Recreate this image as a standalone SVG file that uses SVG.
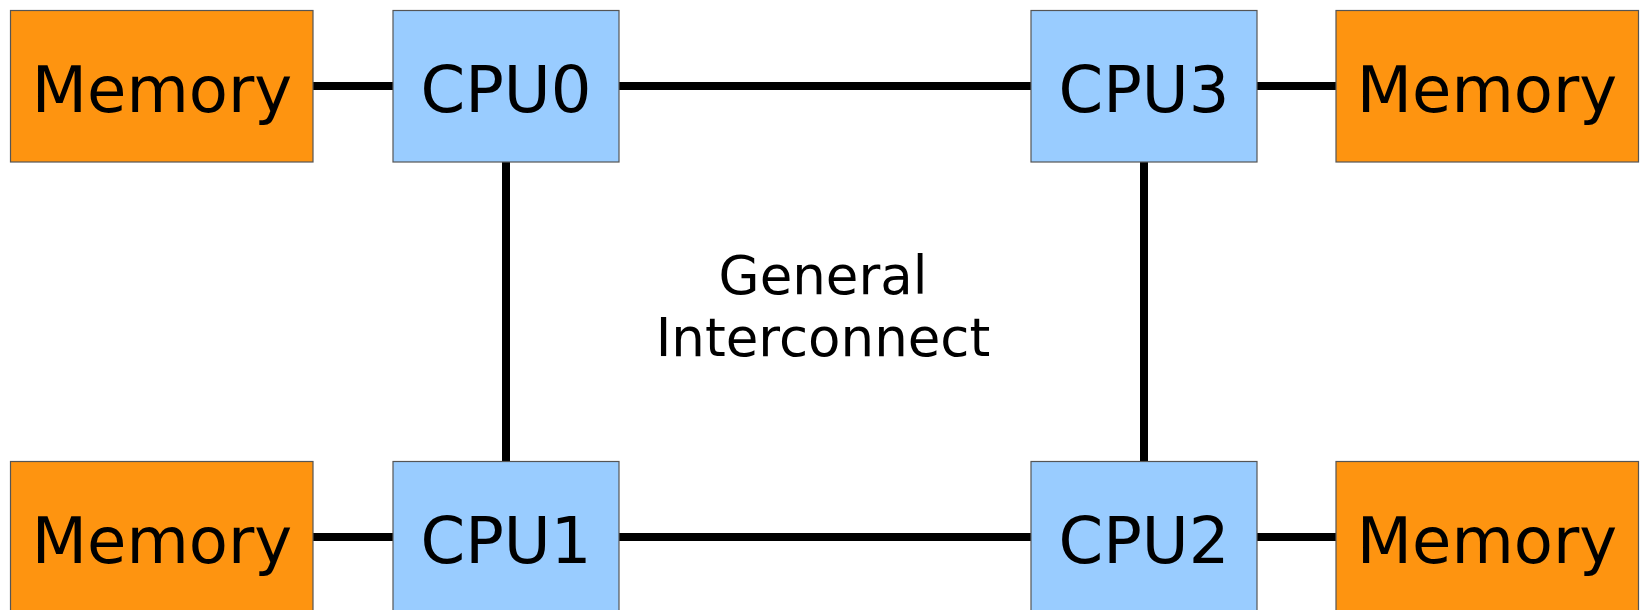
<svg xmlns="http://www.w3.org/2000/svg" width="1640" height="610" viewBox="0 0 1640 610">
<style>
.mem{fill:#fe9410;stroke:#555;stroke-width:1.2}
.cpu{fill:#99ccff;stroke:#555;stroke-width:1.2}
.lbl{font-family:"DejaVu Sans",Verdana,sans-serif;font-size:64px;fill:#000;text-anchor:middle}
.mid{font-family:"DejaVu Sans",Verdana,sans-serif;font-size:53px;fill:#000;text-anchor:middle}
.wire{stroke:#000;stroke-width:8;fill:none}
</style>
<rect width="1640" height="610" fill="#fff"/>
<g id="connectors">
<line class="wire" x1="313" y1="86" x2="393" y2="86"/>
<line class="wire" x1="619" y1="86" x2="1031" y2="86"/>
<line class="wire" x1="1257" y1="86" x2="1336" y2="86"/>
<line class="wire" x1="313" y1="537" x2="393" y2="537"/>
<line class="wire" x1="619" y1="537" x2="1031" y2="537"/>
<line class="wire" x1="1257" y1="537" x2="1336" y2="537"/>
<line class="wire" x1="506" y1="162" x2="506" y2="462"/>
<line class="wire" x1="1144" y1="162" x2="1144" y2="462"/>
</g>
<g id="mem0"><rect class="mem" x="10.5" y="10.5" width="302.5" height="151.5"/><text class="lbl" x="162" y="112">Memory</text></g>
<g id="cpu0"><rect class="cpu" x="393" y="10.5" width="226" height="151.5"/><text class="lbl" x="506" y="112">CPU0</text></g>
<g id="cpu3"><rect class="cpu" x="1031" y="10.5" width="226" height="151.5"/><text class="lbl" x="1144" y="112">CPU3</text></g>
<g id="mem3"><rect class="mem" x="1336" y="10.5" width="302.5" height="151.5"/><text class="lbl" x="1487" y="112">Memory</text></g>
<g id="mem1"><rect class="mem" x="10.5" y="461.5" width="302.5" height="151.5"/><text class="lbl" x="162" y="563">Memory</text></g>
<g id="cpu1"><rect class="cpu" x="393" y="461.5" width="226" height="151.5"/><text class="lbl" x="506" y="563">CPU1</text></g>
<g id="cpu2"><rect class="cpu" x="1031" y="461.5" width="226" height="151.5"/><text class="lbl" x="1144" y="563">CPU2</text></g>
<g id="mem2"><rect class="mem" x="1336" y="461.5" width="302.5" height="151.5"/><text class="lbl" x="1487" y="563">Memory</text></g>
<g id="interconnect"><text class="mid" x="823" y="294">General</text><text class="mid" x="823" y="356">Interconnect</text></g>
</svg>
